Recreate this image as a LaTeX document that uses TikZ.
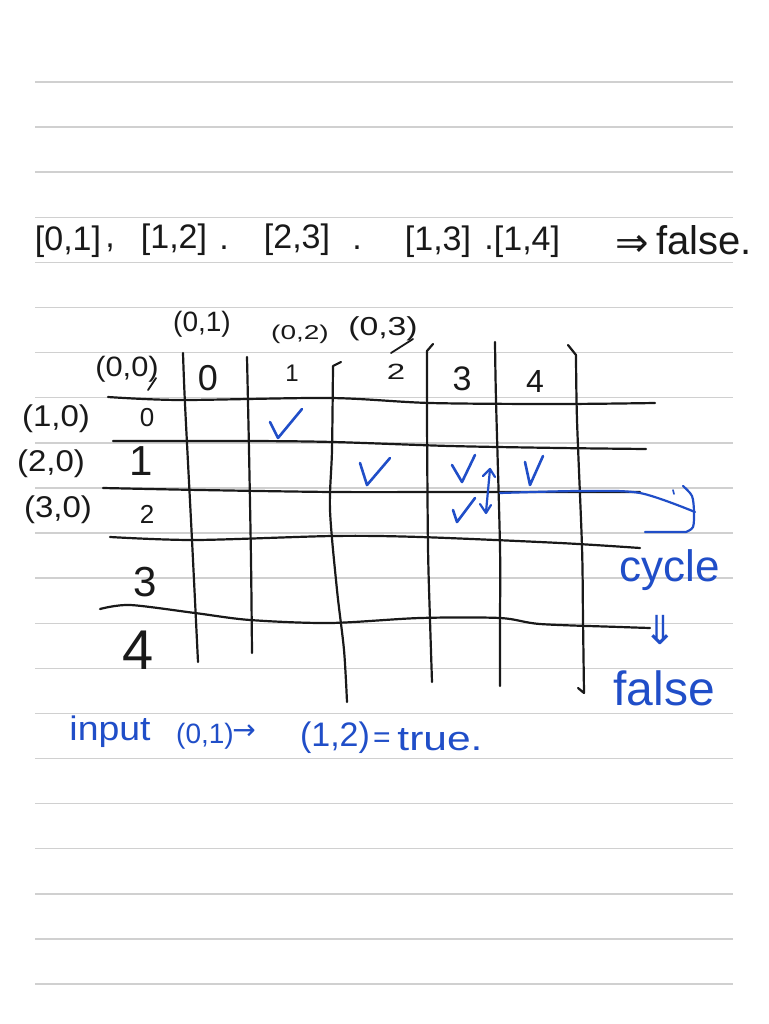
\documentclass[tikz,border=0pt]{standalone}
\usepackage{fontspec}
\setmainfont{Liberation Sans}
\newfontfamily\symf{DejaVu Sans}
\definecolor{ink}{RGB}{25,25,25}
\definecolor{pen}{RGB}{32,78,200}
\definecolor{rulegray}{RGB}{208,208,208}
\newcommand{\fs}[1]{\fontsize{#1}{#1}\selectfont}
\tikzset{
  gridline/.style={draw=ink, line width=2.2pt, line cap=round, line join=round},
  thinink/.style={draw=ink, line width=1.8pt, line cap=round},
  ruleline/.style={draw=rulegray, line width=1.4pt},
  blk/.style={text=ink, inner sep=0pt},
  blu/.style={text=pen, inner sep=0pt},
  bpen/.style={draw=pen, line width=2.6pt, line cap=round, line join=round},
}
\begin{document}
\begin{tikzpicture}[x=1pt,y=-1pt]
\useasboundingbox[fill=white] (0,0) rectangle (768,1024);
% ruled paper
\foreach \i in {0,...,20} \draw[ruleline] (35,{82+45.1*\i}) -- (733,{82+45.1*\i});

% top line
\node[blk,font=\fs{34}] (e1) at (68,242) {[0,1]};
\node[blk,font=\fs{34}] (s1) at (110,248) {,};
\node[blk,font=\fs{34}] (e2) at (174,240) {[1,2]};
\node[blk,font=\fs{34}] (s2) at (224,248) {.};
\node[blk,font=\fs{34}] (e3) at (297,240) {[2,3]};
\node[blk,font=\fs{34}] (s3) at (357,248) {.};
\node[blk,font=\fs{34}] (e4) at (438,242) {[1,3]};
\node[blk,font=\fs{34}] (s4) at (489,248) {.};
\node[blk,font=\fs{34}] (e5) at (527,242) {[1,4]};
\node[blk,font=\symf\fs{40}] (imp) at (632,246) {⇒};
\node[blk,font=\fs{40}] (fa1) at (704,240) {false.};

% grid horizontal lines
\draw[gridline] plot[smooth] coordinates {(108,397) (180,400) (330,398) (430,403) (560,404) (655,403)};
\draw[gridline] plot[smooth] coordinates {(113,441) (250,441) (333,442) (450,446) (560,448) (646,449)};
\draw[gridline] plot[smooth] coordinates {(103,488) (200,490) (333,492) (450,492) (560,492) (640,492)};
\draw[gridline] plot[smooth] coordinates {(110,537) (195,540) (333,536) (420,537) (560,543) (640,548)};
\draw[gridline] plot[smooth] coordinates {(100,609) (130,605) (195,613) (250,620) (330,623) (420,618) (500,618) (540,624) (620,627) (650,628)};
% grid vertical lines
\draw[gridline] plot[smooth] coordinates {(183,353) (185,404) (192,540) (198,662)};
\draw[gridline] plot[smooth] coordinates {(247,357) (249,450) (251,560) (252,653)};
\draw[gridline] (341,362) -- (333,366) plot[smooth] coordinates {(333,366) (332,450) (330,510) (337,590) (344,650) (347,702)};
\draw[gridline] (433,344) -- (427,351) plot[smooth] coordinates {(427,351) (427,420) (428,547) (430,620) (432,682)};
\draw[gridline] plot[smooth] coordinates {(495,342) (496,400) (500,547) (500,620) (500,686)};
\draw[gridline] (568,345) -- (576,355) plot[smooth] coordinates {(576,355) (577,420) (582,547) (583,620) (584,693)} -- (578,688);

% column labels
\node[blk,font=\fs{28}] (c01) at (202,324) {(0,1)};
\node[blk,font=\fs{20}] (c02) at (300,334) {\scalebox{1.4}[1]{(0,2)}};
\node[blk,font=\fs{26}] (c03) at (383,329) {\scalebox{1.3}[1]{(0,3)}};
\draw[thinink] (413,339) -- (391,353);
\node[blk,font=\fs{28}] (c00) at (127,369) {\scalebox{1.1}[1]{(0,0)}};
\draw[thinink] (156,378) -- (148,390);
\node[blk,font=\fs{36}] (h0) at (208,378) {0};
\node[blk,font=\fs{24}] (h1) at (292,373) {1};
\node[blk,font=\fs{22}] (h2) at (396,372) {\scalebox{1.5}[1]{2}};
\node[blk,font=\fs{34}] (h3) at (462,379) {3};
\node[blk,font=\fs{32}] (h4) at (535,381) {4};

% row labels
\node[blk,font=\fs{26}] (r0) at (147,418) {0};
\node[blk,font=\fs{42}] (r1) at (141,461) {1};
\node[blk,font=\fs{26}] (r2) at (147,514) {2};
\node[blk,font=\fs{42}] (r3) at (145,582) {3};
\node[blk,font=\fs{56}] (r4) at (138,650) {4};
\node[blk,font=\fs{30}] (l10) at (56,419) {\scalebox{1.1}[1]{(1,0)}};
\node[blk,font=\fs{30}] (l20) at (51,464) {\scalebox{1.1}[1]{(2,0)}};
\node[blk,font=\fs{30}] (l30) at (58,510) {\scalebox{1.1}[1]{(3,0)}};

% blue ticks
\draw[bpen] (270,422) -- (278,438) -- (302,409);
\draw[bpen] (360,463) -- (367,485) -- (390,458);
\draw[bpen] (452,465) -- (462,482) -- (475,455);
\draw[bpen] (525,462) -- (530,485) -- (543,456);
\draw[bpen] (453,510) -- (457,522) -- (475,498);
% double arrow
\draw[bpen,line width=2.2pt] (490,469) -- (486,512);
\draw[bpen,line width=2.2pt] (483,476) -- (490,469) -- (495,477);
\draw[bpen,line width=2.2pt] (480,504) -- (486,513) -- (491,505);
% cycle line and bracket
\draw[bpen,line width=2.2pt] plot[smooth] coordinates {(500,493) (580,491) (640,493) (695,512)};
\draw[bpen,line width=2.2pt] plot[smooth] coordinates {(683,486) (692,496) (694,512) (693,527) (686,532)} -- (645,532);
\draw[bpen,line width=1.6pt] (673,490) -- (674,494);

% blue notes
\node[blu,font=\fs{44}] (cyc) at (670,570) {cycle};
\node[blu,font=\symf\fs{40}] (dn) at (660,630) {⇓};
\node[blu,font=\fs{48}] (fa2) at (664,688) {false};

\node[blu,font=\fs{34}] (in1) at (110,732) {\scalebox{1.1}[1]{input}};
\node[blu,font=\fs{28}] (in2) at (205,736) {(0,1)};
\node[blu,font=\symf\fs{28}] (in3) at (244,732) {→};
\node[blu,font=\fs{34}] (in4) at (335,738) {(1,2)};
\node[blu,font=\fs{30}] (in5) at (382,740) {=};
\node[blu,font=\fs{34}] (in6) at (440,740) {\scalebox{1.25}[1]{true.}};
\end{tikzpicture}
\end{document}
